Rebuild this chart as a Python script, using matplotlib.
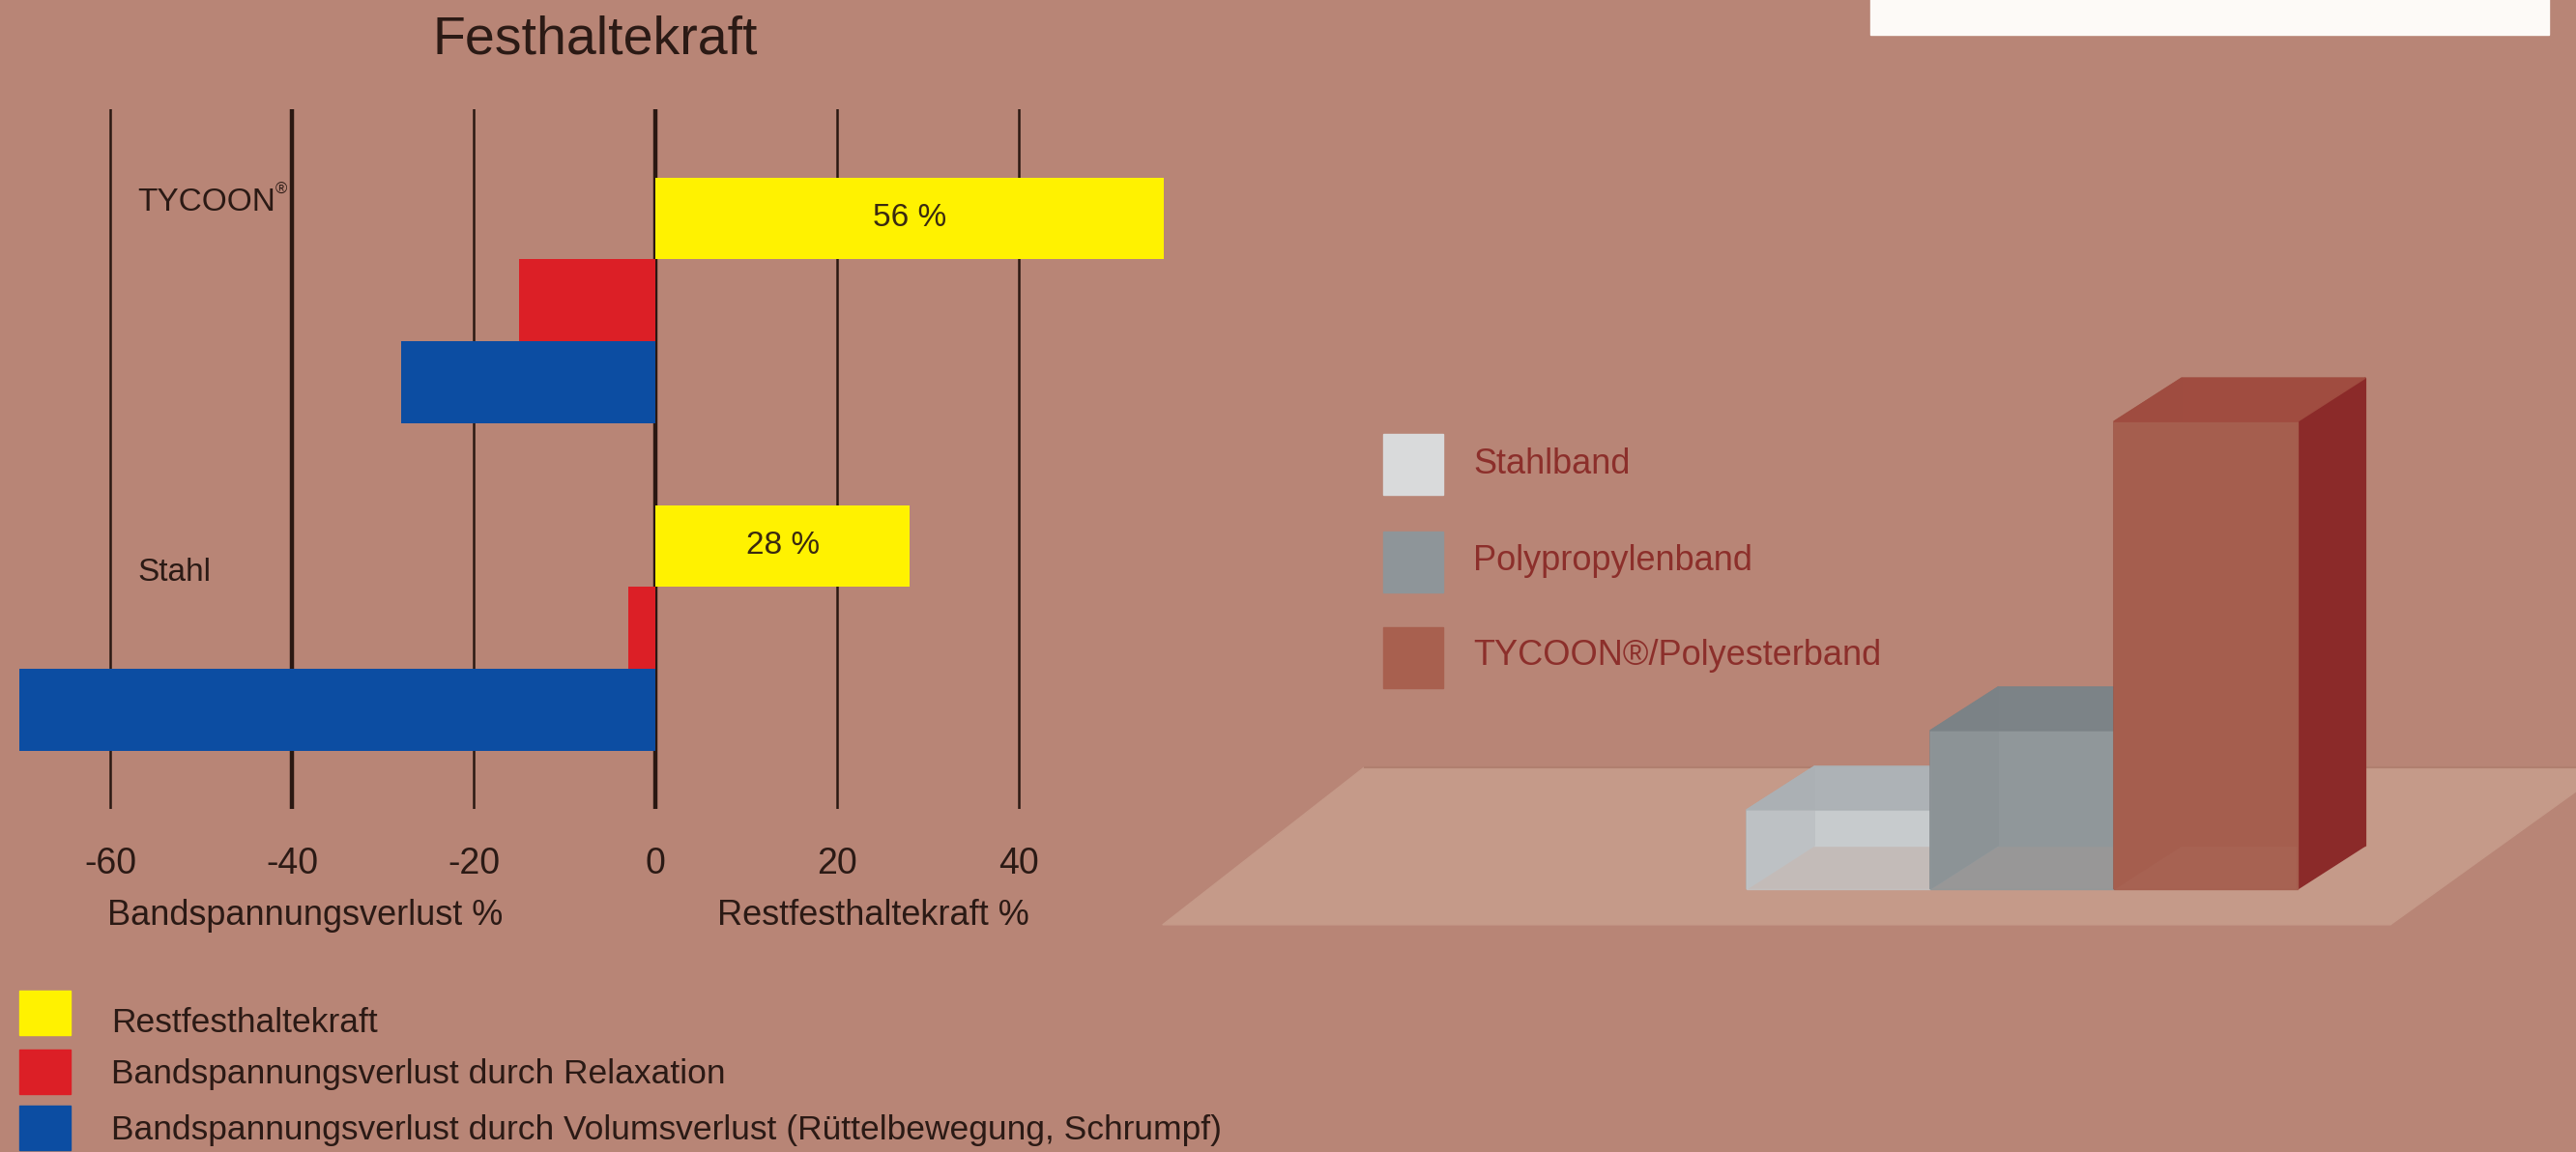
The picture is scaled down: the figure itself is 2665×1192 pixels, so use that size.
import matplotlib
matplotlib.use("Agg")
import matplotlib.pyplot as plt
from matplotlib.patches import Rectangle, Polygon

plt.rcParams['font.family'] = ['Liberation Sans', 'DejaVu Sans']
plt.rcParams['axes.unicode_minus'] = False

# --- data: Festhaltekraft (left chart) ---
groups = ["TYCOON", "Stahl"]
rest = [56, 28]          # Restfesthaltekraft %
relax = [-15, -3]        # Bandspannungsverlust durch Relaxation
volumen = [-28, -70]     # Bandspannungsverlust durch Volumsverlust
ticks = [-60, -40, -20, 0, 20, 40]

# --- data: 3D comparison (right chart) ---
bands = ["Stahlband", "Polypropylenband", "TYCOON®/Polyesterband"]
band_heights = [1.0, 2.0, 5.9]

BG = "#b88576"
TXT = "#2b1a15"
YELLOW, RED, BLUE = "#fff200", "#dc1f26", "#0c4da2"

W, H = 2665, 1192
fig = plt.figure(figsize=(W / 100, H / 100), dpi=100)
fig.patch.set_facecolor(BG)


def px_rect(x0, y0, x1, y1):
    # pixel box (top-left origin) -> figure fraction [l, b, w, h]
    return [x0 / W, 1 - y1 / H, (x1 - x0) / W, (y1 - y0) / H]


# ---------------- left chart ----------------
ax = fig.add_axes(px_rect(0, 113, 1250, 837))
ax.set_facecolor("none")
ax.set_xlim(-72.13, 60.85)
ax.set_ylim(7.21, -1.333)
for s in ax.spines.values():
    s.set_visible(False)
ax.set_yticks([])
ax.set_xticks(ticks)
ax.set_xticklabels([str(t) for t in ticks])
ax.tick_params(axis="x", length=0, pad=28, labelsize=27, labelcolor=TXT)

for t in ticks:
    ax.axvline(t, color="#2a1812", lw=3.2 if t in (-40, 0) else 1.8, zorder=1)

base = [0, 4]
ax.barh([b for b in base], rest, height=1, color=YELLOW, zorder=2)
ax.barh([b + 1 for b in base], relax, height=1, color=RED, zorder=2)
ax.barh([b + 2 for b in base], volumen, height=1, color=BLUE, zorder=2)

for b, v in zip(base, rest):
    ax.text(v / 2, b, f"{v} %", ha="center", va="center", fontsize=24, color="#3a2a10", zorder=3)

label_y = [-0.19, 4.32]
for i, (g, y) in enumerate(zip(groups, label_y)):
    t = ax.text(-57, y, g, ha="left", va="center", fontsize=24, color=TXT)
    if i == 0:
        ax.annotate("®", xy=(1.0, 0.95), xycoords=t, ha="left", va="center",
                    fontsize=12, color=TXT)

ax.text(-38.5, -0.152, "Bandspannungsverlust %", transform=ax.get_xaxis_transform(),
        ha="center", va="center", fontsize=26, color=TXT)
ax.text(24, -0.152, "Restfesthaltekraft %", transform=ax.get_xaxis_transform(),
        ha="center", va="center", fontsize=26, color=TXT)

fig.text(616 / W, 1 - 42 / H, "Festhaltekraft", ha="center", va="center", fontsize=40, color=TXT)

# legend (bottom left)
legend_items = ["Restfesthaltekraft", "Bandspannungsverlust durch Relaxation",
                "Bandspannungsverlust durch Volumsverlust (Rüttelbewegung, Schrumpf)"]
sw_top = [1025, 1086, 1144]
txt_y = [1058, 1112, 1170]
for col, lab, st, ty in zip([YELLOW, RED, BLUE], legend_items, sw_top, txt_y):
    l, b, w, h = px_rect(20, st, 73, st + 46)
    fig.add_artist(Rectangle((l, b), w, h, transform=fig.transFigure, color=col))
    fig.text(115 / W, 1 - ty / H, lab, ha="left", va="center", fontsize=25.5, color=TXT)

# top-right white box (its text is cut off in the source)
l, b, w, h = px_rect(1935, -5, 2637, 36)
fig.add_artist(Rectangle((l, b), w, h, transform=fig.transFigure, color="#fdfaf7"))

# ---------------- right chart (pseudo 3D) ----------------
ax3 = fig.add_axes(px_rect(1180, 380, 2665, 1000))
ax3.set_xlim(-3.30, 4.516)
ax3.set_ylim(-0.976, 6.585)
ax3.axis("off")

floor = Polygon([(-3.18, -0.45), (3.505, -0.45), (4.7, 1.54), (-2.08, 1.54)],
                closed=True, color="#c59a89", zorder=0)
ax3.add_patch(floor)
ax3.plot([-2.08, 4.7], [1.54, 1.54], color="#b07f6f", lw=1.5, zorder=0.5)

dx, dy = 0.37, 0.55
faces = {
    "Stahlband": dict(back="#d6dadc", left="#aeb3b7", top="#abb0b4", front="#c3c7c9", right="#b4b9bc", a=0.75),
    "Polypropylenband": dict(back="#959b9e", left="#7c8286", top="#7b8286", front="#90979a", right="#868c90", a=0.85),
    "TYCOON®/Polyesterband": dict(back="#a35a4a", left="#9c5444", top="#a04c40", front="#a65f4f", right="#8b2a29", a=0.95),
}
for i, (name, hgt) in enumerate(zip(bands, band_heights)):
    c = faces[name]
    x = i
    z = 2 + i
    ax3.add_patch(Rectangle((x + dx, dy), 1, hgt, color=c["back"], zorder=z))
    ax3.add_patch(Polygon([(x, 0), (x + dx, dy), (x + dx, hgt + dy), (x, hgt)],
                          color=c["left"], zorder=z + 0.1))
    ax3.add_patch(Polygon([(x + 1, 0), (x + 1 + dx, dy), (x + 1 + dx, hgt + dy), (x + 1, hgt)],
                          color=c["right"], zorder=z + 0.1))
    ax3.add_patch(Rectangle((x, 0), 1, hgt, color=c["front"], alpha=c["a"], zorder=z + 0.2))
    ax3.add_patch(Polygon([(x, hgt), (x + dx, hgt + dy), (x + 1 + dx, hgt + dy), (x + 1, hgt)],
                          color=c["top"], alpha=0.95, zorder=z + 0.3))

# legend for the 3D chart
sw_cols = ["#d9dadb", "#8e9599", "#a8604f"]
sw_tops = [449, 550, 649]
txt_ys = [481, 581, 678]
for col, lab, st, ty in zip(sw_cols, bands, sw_tops, txt_ys):
    l, b, w, h = px_rect(1431, st, 1493, st + 63)
    fig.add_artist(Rectangle((l, b), w, h, transform=fig.transFigure, color=col))
    fig.text(1524 / W, 1 - ty / H, lab, ha="left", va="center", fontsize=26, color="#8c2f2b")

fig.savefig("out.png", dpi=100, facecolor=BG)
